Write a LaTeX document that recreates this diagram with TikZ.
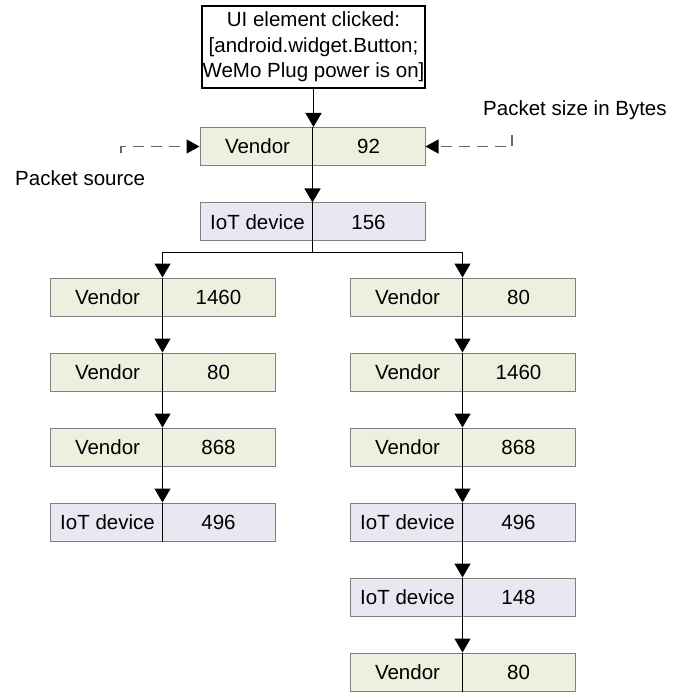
\documentclass[tikz,border=0pt]{standalone}
\usepackage{fontspec}
\setmainfont{Liberation Sans}
\usetikzlibrary{arrows.meta,calc}
\definecolor{vendorfill}{HTML}{EBF1DE}
\definecolor{devicefill}{HTML}{E9E7F1}
\definecolor{boxline}{HTML}{808080}
\definecolor{dashline}{HTML}{666666}
\tikzset{
  pkt/.style={draw=boxline, line width=1pt, minimum width=225pt, minimum height=38pt, inner sep=0pt},
  vendorbox/.style={pkt, fill=vendorfill},
  devicebox/.style={pkt, fill=devicefill},
  txt/.style={font=\fontsize{20.5}{24}\selectfont, inner sep=0pt},
  flow/.style={line width=1.3pt, -{Triangle[length=14pt,width=16pt]}},
  divider/.style={line width=1.3pt},
  hint/.style={dashline, line width=1.2pt, dash pattern=on 11pt off 7pt,
               -{Triangle[length=13pt,width=14pt,color=black]}},
}
% one packet box: name, x, y, source, size, style
\newcommand{\packetbox}[6]{%
  \node[#6] (#1) at (#2,#3) {};
  \node[txt] (#1-src) at ([xshift=-55pt]#1.center) {#4};
  \node[txt] (#1-len) at ([xshift=56pt]#1.center) {#5};
  \draw[divider] (#1.north) -- (#1.south);
}
\begin{document}
\begin{tikzpicture}[x=1pt, y=-1pt]
\useasboundingbox (0,0) rectangle (688,692);

% event that triggered the traffic
\node[draw=black, line width=1.8pt, minimum width=223pt, minimum height=82pt, inner sep=0pt,
      align=center, font=\fontsize{20.5}{25.5}\selectfont] (ui) at (313.5,47)
  {UI element clicked:\\{}{[}android.widget.Button;\\WeMo Plug power is on{]}};

% common prefix
\packetbox{p1}{312.5}{146.5}{Vendor}{92}{vendorbox}
\packetbox{p2}{312.5}{222}{IoT device}{156}{devicebox}

% left branch
\packetbox{l1}{162.5}{297}{Vendor}{1460}{vendorbox}
\packetbox{l2}{162.5}{372}{Vendor}{80}{vendorbox}
\packetbox{l3}{162.5}{447}{Vendor}{868}{vendorbox}
\packetbox{l4}{162.5}{522}{IoT device}{496}{devicebox}

% right branch
\packetbox{r1}{462.5}{297}{Vendor}{80}{vendorbox}
\packetbox{r2}{462.5}{372}{Vendor}{1460}{vendorbox}
\packetbox{r3}{462.5}{447}{Vendor}{868}{vendorbox}
\packetbox{r4}{462.5}{522}{IoT device}{496}{devicebox}
\packetbox{r5}{462.5}{597}{IoT device}{148}{devicebox}
\packetbox{r6}{462.5}{672}{Vendor}{80}{vendorbox}

% sequence arrows
\draw[flow] (ui.south) -- (p1.north -| ui.south);
\draw[flow] (p1.south) -- (p2.north);
\coordinate (fork) at ($(p2.south)+(0,11)$);
\draw[divider] (p2.south) -- (fork);
\draw[flow] (fork) -| (l1.north);
\draw[flow] (fork) -| (r1.north);
\draw[flow] (l1.south) -- (l2.north);
\draw[flow] (l2.south) -- (l3.north);
\draw[flow] (l3.south) -- (l4.north);
\draw[flow] (r1.south) -- (r2.north);
\draw[flow] (r2.south) -- (r3.north);
\draw[flow] (r3.south) -- (r4.north);
\draw[flow] (r4.south) -- (r5.north);
\draw[flow] (r5.south) -- (r6.north);

% legend callouts
\node[txt, anchor=west] (srclbl) at (15,178) {Packet source};
\node[txt, anchor=west] (lenlbl) at (483,110) {Packet size in Bytes};
\coordinate (srcend) at (121,153);
\coordinate (lenend) at (512,135);
\draw[hint] (srcend) |- (p1.west);
\draw[hint] (lenend) |- (p1.east);
\end{tikzpicture}
\end{document}
